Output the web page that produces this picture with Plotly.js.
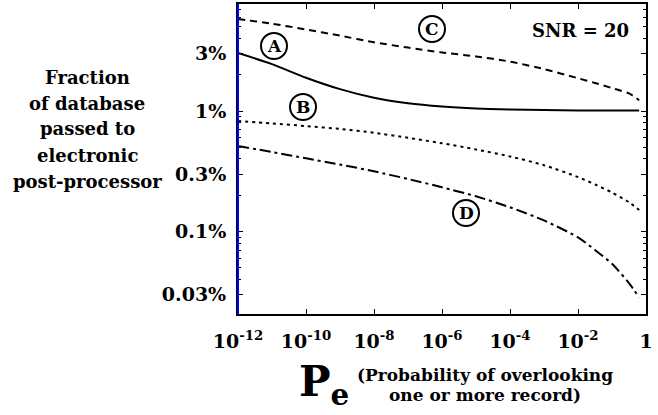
<!DOCTYPE html>
<html>
<head>
<meta charset="utf-8">
<script src="https://cdn.plot.ly/plotly-3.0.1.min.js"></script>
<style>
html,body{margin:0;padding:0;background:#fff;}
#chart{width:658px;height:415px;}
</style>
</head>
<body>
<div id="chart"></div>
<script>
// Pe values (probability of overlooking), as decade exponents
var peExp = [-12, -11, -10, -9, -8, -7, -6, -5, -4, -3, -2, -1.5, -1, -0.5, -0.2];
var pe = peExp.map(function(e){ return Math.pow(10, e); });

// Fraction of database passed (in percent)
var curveA = [3.03, 2.45, 1.89, 1.52, 1.29, 1.16, 1.09, 1.05, 1.03, 1.02, 1.01, 1.01, 1.01, 1.01, 1.01];
var curveB = [0.826, 0.79, 0.75, 0.71, 0.66, 0.60, 0.54, 0.48, 0.42, 0.355, 0.283, 0.246, 0.211, 0.175, 0.151];
var curveC = [5.80, 5.30, 4.75, 4.22, 3.72, 3.36, 3.06, 2.84, 2.57, 2.23, 1.87, 1.71, 1.55, 1.40, 1.23];
var curveD = [0.513, 0.457, 0.405, 0.36, 0.316, 0.273, 0.233, 0.196, 0.159, 0.1236, 0.0895, 0.0703, 0.054, 0.0373, 0.0283];

var xTickVals = [1e-12, 1e-10, 1e-8, 1e-6, 1e-4, 1e-2, 1];
var xTickText = ['10<sup>-12</sup>', '10<sup>-10</sup>', '10<sup>-8</sup>', '10<sup>-6</sup>', '10<sup>-4</sup>', '10<sup>-2</sup>', '1'];
var yTickVals = [0.03, 0.1, 0.3, 1, 3];
var yTickText = ['0.03%', '0.1%', '0.3%', '1%', '3%'];
var yMinorVals = [0.04,0.05,0.06,0.07,0.08,0.09,0.2,0.3,0.4,0.5,0.6,0.7,0.8,0.9,2,3,4,5,6,7];

var yTitleLines = ['Fraction', 'of database', 'passed to', 'electronic', 'post-processor'];
var labels = ['A', 'B', 'C', 'D'];
var xSubTitle = ['(Probability of overlooking', 'one or more record)'];

var FONT = '"DejaVu Serif", "Liberation Serif", serif';

// plot box in pixels
var L = 238, R = 646, T = 4, B = 314;
function px(x){ return (x - L) / (R - L); }
function py(y){ return (B - y) / (B - T); }

function tr(y, dash){
  return {x: pe, y: y, type: 'scatter', mode: 'lines',
    line: {color: '#000', width: 2, dash: dash, shape: 'spline', smoothing: 0.7},
    hoverinfo: 'skip', showlegend: false};
}
var data = [
  tr(curveA, 'solid'),
  tr(curveB, '3px,4px'),
  tr(curveC, '7px,5px'),
  tr(curveD, '11px,4px,3px,4px')
];

var annotations = [];
var ys = [77, 103, 128, 155, 181];
yTitleLines.forEach(function(t, i){
  annotations.push({text: '<b>' + t + '</b>', xref: 'paper', yref: 'paper',
    x: px(87), y: py(ys[i]), xanchor: 'center', yanchor: 'middle', showarrow: false,
    font: {family: FONT, size: 18, color: '#000'}});
});
var labelPos = [[274, 46], [303, 107], [432, 29], [466, 213]];
var shapes = [];
labels.forEach(function(t, i){
  annotations.push({text: '<b>' + t + '</b>', xref: 'paper', yref: 'paper',
    x: px(labelPos[i][0]), y: py(labelPos[i][1]), xanchor: 'center', yanchor: 'middle',
    showarrow: false, font: {family: FONT, size: 17, color: '#000'}});
  shapes.push({type: 'circle', xref: 'paper', yref: 'paper',
    xsizemode: 'pixel', ysizemode: 'pixel',
    xanchor: px(labelPos[i][0]), yanchor: py(labelPos[i][1]),
    x0: -13, x1: 13, y0: -13, y1: 13,
    line: {color: '#000', width: 2}, fillcolor: 'rgba(0,0,0,0)'});
});
annotations.push({text: '<b>SNR = 20</b>', xref: 'paper', yref: 'paper',
  x: px(580), y: py(31), xanchor: 'center', yanchor: 'middle', showarrow: false,
  font: {family: FONT, size: 18, color: '#000'}});
annotations.push({text: '<b>P<sub>e</sub></b>', xref: 'paper', yref: 'paper',
  x: px(297), y: py(384), xanchor: 'left', yanchor: 'middle', showarrow: false,
  font: {family: FONT, size: 42, color: '#000'}});
[375, 395].forEach(function(y, i){
  annotations.push({text: '<b>' + xSubTitle[i] + '</b>', xref: 'paper', yref: 'paper',
    x: px(485), y: py(y), xanchor: 'center', yanchor: 'middle', showarrow: false,
    font: {family: FONT, size: 17, color: '#000'}});
});

// blue left axis line
shapes.push({type: 'line', xref: 'paper', yref: 'paper', x0: 0, x1: 0, y0: 0, y1: 1,
  line: {color: '#0000ff', width: 2}, layer: 'above'});

var layout = {
  width: 658, height: 415,
  margin: {l: L, r: 658 - R, t: T, b: 415 - B, pad: 0},
  paper_bgcolor: '#fff', plot_bgcolor: '#fff',
  showlegend: false,
  font: {family: FONT, color: '#000'},
  xaxis: {type: 'log', range: [-12, 0], tickvals: xTickVals, ticktext: xTickText,
    ticks: 'inside', ticklen: 5, tickwidth: 1, tickcolor: '#000',
    showline: true, linecolor: '#000', linewidth: 2, mirror: 'ticks',
    showgrid: false, zeroline: false, ticklabelstandoff: 9,
    tickfont: {family: FONT, size: 19, color: '#000', weight: 'bold'}},
  yaxis: {type: 'log', range: [Math.log10(0.0207), 0.888], tickvals: yTickVals, ticktext: yTickText,
    ticks: 'inside', ticklen: 5, tickwidth: 1, tickcolor: '#000',
    minor: {tickvals: yMinorVals, ticks: 'inside', ticklen: 3, tickwidth: 1, tickcolor: '#000', showgrid: false},
    showline: true, linecolor: '#000', linewidth: 2, mirror: 'ticks',
    showgrid: false, zeroline: false, ticklabelstandoff: 6,
    tickfont: {family: FONT, size: 19, color: '#000', weight: 'bold'}},
  annotations: annotations,
  shapes: shapes
};

Plotly.newPlot('chart', data, layout, {staticPlot: true, displayModeBar: false});
</script>
</body>
</html>
